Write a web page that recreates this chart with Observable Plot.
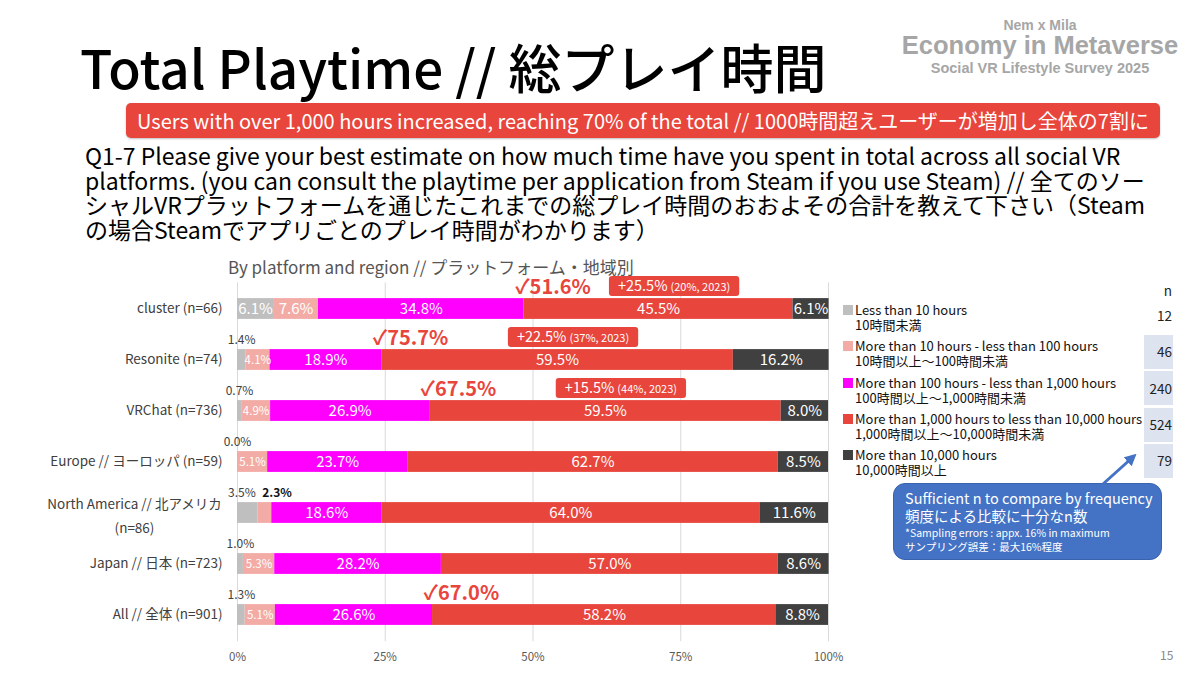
<!DOCTYPE html>
<html><head><meta charset="utf-8">
<script src="https://cdn.jsdelivr.net/npm/d3@7"></script>
<script src="https://cdn.jsdelivr.net/npm/@observablehq/plot@0.6"></script>
<style>
body{margin:0;width:1200px;height:675px;background:#fff;position:relative;overflow:hidden;font-family:"Noto Sans CJK JP","Noto Sans",sans-serif;}
.abs{position:absolute;white-space:nowrap;}
#title{left:80px;top:40px;font-size:53px;line-height:53px;font-weight:500;color:#000;}
.logo{left:890px;width:300px;text-align:center;font-family:"Liberation Sans",Arial,sans-serif;font-weight:bold;color:#a6a6a6;}
#banner{left:126px;top:103px;width:1034px;height:35px;background:#e8453c;border-radius:5px;color:#fff;font-size:20px;line-height:35px;text-align:center;box-shadow:0 1px 2px rgba(0,0,0,.25);}
#question{left:85px;top:143px;font-size:23px;line-height:24.6px;color:#000;font-weight:400;}
#subtitle{left:228px;top:255px;font-size:17px;line-height:24px;color:#555;z-index:2;}
#chart{left:0;top:250px;z-index:1;}
.leg{font-size:13px;line-height:15px;color:#111;}
.sw{width:10px;height:10px;}
.ncell{background:#dde3ef;}
.nval{font-size:13.5px;color:#222;text-align:right;width:40px;}
#callout{left:893px;top:483px;width:267px;height:75px;background:#4472c4;border:1.5px solid #3a63ad;border-radius:12px;color:#fff;}
#page{left:1160px;top:646px;font-size:12px;color:#888;}
</style></head><body>
<div id="title" class="abs">Total Playtime // 総プレイ時間</div>
<div class="abs logo" style="top:17px;font-size:14px;">Nem x Mila</div>
<div class="abs logo" style="top:31px;font-size:25.5px;">Economy in Metaverse</div>
<div class="abs logo" style="top:60px;font-size:14.5px;">Social VR Lifestyle Survey 2025</div>
<div id="banner" class="abs">Users with over 1,000 hours increased, reaching 70% of the total // 1000時間超えユーザーが増加し全体の7割に</div>
<div id="question" class="abs">Q1-7 Please give your best estimate on how much time have you spent in total across all social VR<br>platforms. (you can consult the playtime per application from Steam if you use Steam) // 全てのソー<br>シャルVRプラットフォームを通じたこれまでの総プレイ時間のおおよその合計を教えて下さい（Steam<br>の場合Steamでアプリごとのプレイ時間がわかります）</div>
<div id="subtitle" class="abs">By platform and region // プラットフォーム・地域別</div>
<div id="chart" class="abs"></div>
<div id="legend"></div>
<svg class="abs" style="left:0;top:0;z-index:3;" width="1200" height="675">
  <defs><marker id="ah" viewBox="0 0 10 10" refX="6" refY="5" markerWidth="4" markerHeight="4" orient="auto"><path d="M0,0L10,5L0,10z" fill="#4472c4"/></marker></defs>
  <line x1="1103" y1="484" x2="1133" y2="457" stroke="#4472c4" stroke-width="3" marker-end="url(#ah)"/>
</svg>
<div id="callout" class="abs">
  <div class="abs" style="left:11px;top:5px;font-size:14.5px;line-height:18px;">Sufficient n to compare by frequency</div>
  <div class="abs" style="left:11px;top:23px;font-size:14.5px;line-height:18px;">頻度による比較に十分なn数</div>
  <div class="abs" style="left:11px;top:42px;font-size:10.5px;line-height:13px;">*Sampling errors : appx. 16% in maximum</div>
  <div class="abs" style="left:11px;top:56px;font-size:10.5px;line-height:13px;">サンプリング誤差：最大16%程度</div>
</div>
<div id="page" class="abs">15</div>
<script>
const FONT = '"Noto Sans CJK JP","Noto Sans",sans-serif';
const rows = ["cluster (n=66)", "Resonite (n=74)", "VRChat (n=736)", "Europe // ヨーロッパ (n=59)", "North America // 北アメリカ\n(n=86)", "Japan // 日本 (n=723)", "All // 全体 (n=901)"];
const categories = ["Less than 10 hours", "More than 10 hours - less than 100 hours", "More than 100 hours - less than 1,000 hours", "More than 1,000 hours to less than 10,000 hours", "More than 10,000 hours"];
const categoriesJa = ["10時間未満", "10時間以上～100時間未満", "100時間以上～1,000時間未満", "1,000時間以上～10,000時間未満", "10,000時間以上"];
const counts = [12, 46, 240, 524, 79];
const lt10 =        [6.1, 1.4, 0.7, 0.0, 3.5, 1.0, 1.3];
const h10to100 =    [7.6, 4.1, 4.9, 5.1, 2.3, 5.3, 5.1];
const h100to1000 =  [34.8, 18.9, 26.9, 23.7, 18.6, 28.2, 26.6];
const h1000to10000 =[45.5, 59.5, 59.5, 62.7, 64.0, 57.0, 58.2];
const gt10000 =     [6.1, 16.2, 8.0, 8.5, 11.6, 8.6, 8.8];
const over1000 =    [51.6, 75.7, 67.5, null, null, null, 67.0];
const growthChange = ["+25.5%", "+22.5%", "+15.5%"];
const growthPrev =   ["(20%, 2023)", "(37%, 2023)", "(44%, 2023)"];
const xTicks = [0, 25, 50, 75, 100];
const colors = ["#bfbfbf", "#f3aba6", "#ff00ff", "#e8453c", "#404040"];

const series = [lt10, h10to100, h100to1000, h1000to10000, gt10000];
const table = [];
rows.forEach((r, i) => {
  let acc = 0;
  series.forEach((s, k) => {
    const v = s[i];
    table.push({row: r, i, k, cat: categories[k], value: v, x1: acc, x2: acc + v, mid: acc + v / 2});
    acc += v;
  });
});
const fmt = d => d.value.toFixed(1) + "%";
const inside = table.filter(d => d.value >= 3.6);
const big = inside.filter(d => d.value >= 6);
const small = inside.filter(d => d.value < 6);
const outside = table.filter(d => d.value < 3.6);
const outCount = d3.rollup(outside, v => v.length, d => d.i);
const outSingle = outside.filter(d => outCount.get(d.i) === 1);
const outLeft = outside.filter(d => outCount.get(d.i) > 1 && d.k === 0);
const outRight = outside.filter(d => outCount.get(d.i) > 1 && d.k === 1);
const checks = rows.map((r, i) => ({row: r, v: over1000[i], start: lt10[i] + h10to100[i] + h100to1000[i]})).filter(d => d.v != null);
const NA = rows[4];

const ctx = document.createElement("canvas").getContext("2d");
function tw(t, size) { ctx.font = size + "px " + FONT; return ctx.measureText(t).width; }

function growthBoxes(index, scales) {
  const x = scales.x, y = scales.y;
  const bw = y.bandwidth ? y.bandwidth() : 51.25;
  const g = d3.create("svg:g");
  growthChange.forEach((c, i) => {
    const mid = lt10[i] + h10to100[i] + h100to1000[i] + h1000to10000[i] / 2;
    const cx = x(mid) + 16, cy = y(rows[i]) + bw / 2 - 22.5;
    const w1 = tw(c, 14.5), w2 = tw(growthPrev[i], 11), gap = 3;
    const tot = w1 + gap + w2;
    g.append("rect").attr("x", cx - tot / 2 - 9).attr("y", cy - 10).attr("width", tot + 18).attr("height", 20)
      .attr("rx", 3).attr("fill", "#e8453c");
    const t = g.append("text").attr("x", cx - tot / 2).attr("y", cy + 5).attr("fill", "white")
      .attr("font-family", FONT).attr("text-anchor", "start");
    t.append("tspan").attr("font-size", 14.5).text(c);
    t.append("tspan").attr("font-size", 11).attr("dx", gap).text(growthPrev[i]);
  });
  return g.node();
}

const plot = Plot.plot({
  width: 840, height: 420,
  marginLeft: 237, marginRight: 12, marginTop: 32.4, marginBottom: 28.8,
  style: {fontFamily: FONT, fontSize: "11.5px", color: "#595959", background: "transparent", overflow: "visible"},
  x: {domain: [0, 100], ticks: xTicks, tickFormat: d => d + "%", tickSize: 0, tickPadding: 11, label: null},
  y: {domain: rows, padding: 0, axis: null},
  color: {domain: categories, range: colors},
  marks: [
    Plot.ruleX(xTicks, {stroke: "#d9d9d9", strokeWidth: 1}),
    Plot.barX(table, {x1: "x1", x2: "x2", y: "row", fill: "cat", insetTop: 15.1, insetBottom: 15.1}),
    Plot.text(big, {x: "mid", y: "row", text: fmt, fill: "white", fontSize: 15}),
    Plot.text(small, {x: "mid", y: "row", text: fmt, fill: "white", fontSize: 11.5}),
    Plot.text(outSingle, {x: "mid", y: "row", text: fmt, fill: "#404040", fontSize: 12, dy: -19.5}),
    Plot.text(outLeft, {x: "mid", y: "row", text: fmt, fill: "#404040", fontSize: 12, dy: -19.5, dx: -6}),
    Plot.text(outRight, {x: "mid", y: "row", text: fmt, fill: "#111", fontSize: 12, fontWeight: "bold", dy: -19.5, dx: 12}),
    Plot.text(checks, {x: "start", y: "row", text: d => "✓" + d.v.toFixed(1) + "%", textAnchor: "start", dx: -9, dy: -21, fill: "#e8453c", fontSize: 20, fontWeight: "bold"}),
    growthBoxes,
    Plot.text(rows.filter(r => r !== NA), {y: d => d, text: d => d, frameAnchor: "left", textAnchor: "end", dx: -15, fill: "#404040", fontSize: 13.5}),
    Plot.text([NA], {y: d => d, text: d => d, frameAnchor: "left", textAnchor: "middle", dx: -103, fill: "#404040", fontSize: 13.5, lineHeight: 1.85})
  ]
});
document.getElementById("chart").appendChild(plot);

// legend
const leg = document.getElementById("legend");
const mk = (cls, style, html) => { const d = document.createElement("div"); d.className = "abs " + cls; d.setAttribute("style", style); if (html != null) d.innerHTML = html; leg.appendChild(d); return d; };
mk("nval", "left:1132px;top:281px;line-height:18px;", "n");
categories.forEach((c, i) => {
  const top = 302 + 36.3 * i;
  mk("sw", `left:843px;top:${top + 3}px;background:${colors[i]};`);
  mk("leg", `left:855px;top:${top}px;`, c + "<br>" + categoriesJa[i]);
  if (i > 0) mk("ncell", `left:1144px;top:${top + 33 - 36.3}px;width:29px;height:34px;`);
});
categories.forEach((c, i) => {
  const top = 302 + 36.3 * i;
  mk("nval", `left:1132px;top:${top + 3}px;line-height:20px;`, String(counts[i]));
});
</script>
</body></html>
